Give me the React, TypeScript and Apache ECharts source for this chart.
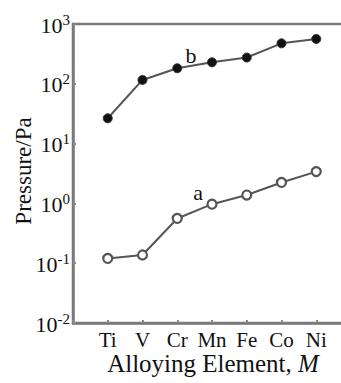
import React, { useEffect, useRef } from "react";
import * as echarts from "echarts";

const categories = ["Ti", "V", "Cr", "Mn", "Fe", "Co", "Ni"];
const seriesB = [26.5, 116, 182, 229, 275, 475, 562];
const seriesA = [0.12, 0.137, 0.56, 0.97, 1.38, 2.24, 3.4];
const yTicks = [0.01, 0.1, 1, 10, 100, 1000];

export default function App() {
  const ref = useRef<HTMLDivElement>(null);
  useEffect(() => {
    if (!ref.current) return;
    const chart = echarts.init(ref.current, undefined, { renderer: "svg" });
    const serif = "Liberation Serif";
    const pos = (arr: number[]) => arr.map((v, i) => [i + 1, v]);
    chart.setOption({
      animation: false,
      backgroundColor: "#fff",
      grid: {
        left: 73,
        top: 24,
        width: 278,
        height: 299,
        show: true,
        borderColor: "#7a7a7a",
        borderWidth: 2.5,
        outerBoundsMode: "none",
        containLabel: false,
      },
      xAxis: {
        type: "value",
        min: 0,
        max: 8,
        interval: 1,
        axisLine: { show: true, lineStyle: { color: "#7a7a7a", width: 2.5 } },
        axisTick: { show: true, inside: true, length: 3, lineStyle: { color: "#888", width: 2 } },
        splitLine: { show: false },
        axisLabel: {
          margin: 6,
          fontFamily: serif,
          fontSize: 21,
          color: "#111",
          showMinLabel: true,
          showMaxLabel: true,
          formatter: (v: number) => categories[Math.round(v) - 1] ?? "",
        },
      },
      yAxis: {
        type: "log",
        logBase: 10,
        min: yTicks[0],
        max: yTicks[yTicks.length - 1],
        axisLine: { show: true, lineStyle: { color: "#7a7a7a", width: 2.5 } },
        axisTick: { show: true, inside: true, length: 3, lineStyle: { color: "#888", width: 2 } },
        splitLine: { show: false },
        minorTick: { show: false },
        axisLabel: {
          margin: 3,
          color: "#111",
          fontFamily: serif,
          formatter: (v: number) => "{b|10}{s|" + Math.round(Math.log10(v)) + "}",
          rich: {
            b: { fontFamily: serif, fontSize: 22, color: "#111", verticalAlign: "bottom", lineHeight: 24 },
            s: { fontFamily: serif, fontSize: 15, color: "#111", verticalAlign: "top", lineHeight: 24, padding: [0, 0, 8, 0] },
          },
        },
      },
      graphic: [
        {
          type: "text",
          x: 23,
          y: 171,
          rotation: Math.PI / 2,
          style: {
            text: "Pressure/Pa",
            fontFamily: serif,
            fontSize: 23,
            fill: "#111",
            align: "center",
            verticalAlign: "middle",
          },
        },
        {
          type: "text",
          x: 213,
          y: 363,
          style: {
            text: "{n|Alloying Element, }{i|M}",
            align: "center",
            verticalAlign: "middle",
            rich: {
              n: { fontFamily: serif, fontSize: 25, fill: "#111" },
              i: { fontFamily: serif, fontSize: 25, fontStyle: "italic", fill: "#111" },
            },
          },
        },
        {
          type: "text",
          x: 191,
          y: 55,
          style: { text: "b", fontFamily: serif, fontSize: 22, fill: "#111", align: "center", verticalAlign: "middle" },
        },
        {
          type: "text",
          x: 198,
          y: 192,
          style: { text: "a", fontFamily: serif, fontSize: 22, fill: "#111", align: "center", verticalAlign: "middle" },
        },
      ],
      series: [
        {
          name: "b",
          type: "line",
          data: pos(seriesB),
          symbol: "circle",
          symbolSize: 9,
          lineStyle: { color: "#555", width: 2 },
          itemStyle: { color: "#111", borderColor: "#333", borderWidth: 1 },
        },
        {
          name: "a",
          type: "line",
          data: pos(seriesA),
          symbol: "circle",
          symbolSize: 9,
          lineStyle: { color: "#555", width: 2 },
          itemStyle: { color: "#fff", borderColor: "#555", borderWidth: 2.2 },
        },
      ],
    });
    return () => chart.dispose();
  }, []);
  return <div ref={ref} style={{ width: 341, height: 383, position: "absolute", left: 0, top: 0 }} />;
}
